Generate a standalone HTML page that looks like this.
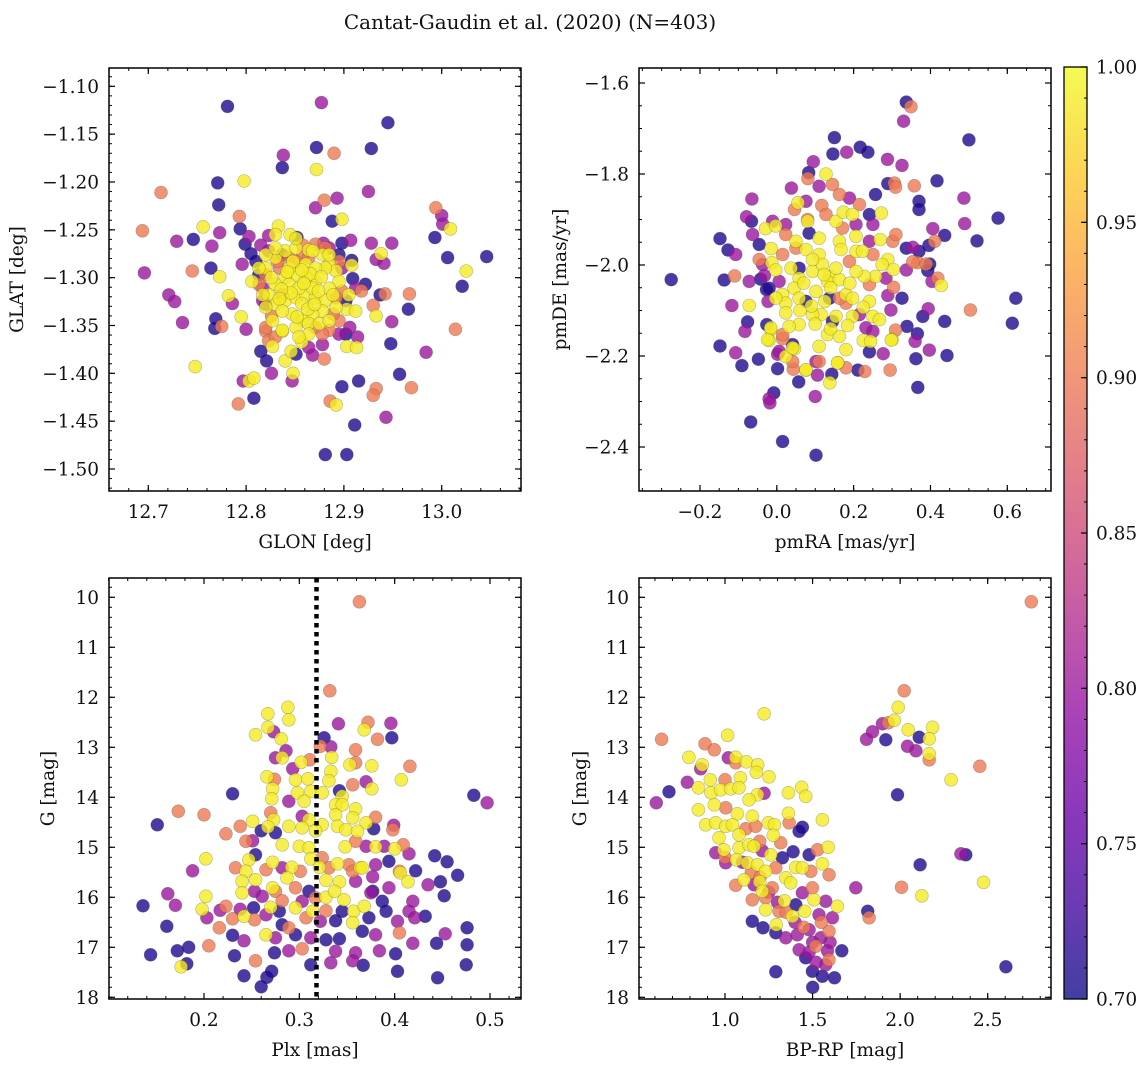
<!DOCTYPE html>
<html><head><meta charset="utf-8">
<style>
html,body{margin:0;padding:0;background:#fff;}
svg{display:block;font-family:"DejaVu Serif","Liberation Serif",serif;}
</style></head>
<body>
<svg id="fig" width="1148" height="1067" viewBox="0 0 1148 1067" xmlns="http://www.w3.org/2000/svg">
<rect x="0" y="0" width="1148" height="1067" fill="#fff"/>
<text x="530" y="29" font-size="20" text-anchor="middle" fill="#111">Cantat-Gaudin et al. (2020) (N=403)</text>
<defs>
<linearGradient id="cbgrad" x1="0" y1="1" x2="0" y2="0">
<stop offset="0" stop-color="#0d0887"/><stop offset="0.1" stop-color="#41049d"/><stop offset="0.2" stop-color="#6a00a8"/><stop offset="0.3" stop-color="#8f0da4"/><stop offset="0.4" stop-color="#b12a90"/><stop offset="0.5" stop-color="#cc4778"/><stop offset="0.6" stop-color="#e16462"/><stop offset="0.7" stop-color="#f2844b"/><stop offset="0.8" stop-color="#fca636"/><stop offset="0.9" stop-color="#fcce25"/><stop offset="1" stop-color="#f0f921"/>
</linearGradient>
</defs>
</svg>
<script>
// ---------- data (value, value, membership probability) ----------
const B=0.71,M=0.80,S=0.90,Y=0.99;
const posData=[
[12.781,-1.121,B],[12.877,-1.117,M],[12.945,-1.138,B],[12.872,-1.164,B],[12.928,-1.165,B],[12.890,-1.170,S],[12.838,-1.172,M],[12.837,-1.185,B],[12.872,-1.187,Y],[12.771,-1.201,B],[12.798,-1.199,Y],[12.713,-1.211,S],[12.772,-1.224,B],[12.925,-1.210,M],[12.880,-1.219,S],[12.893,-1.217,M],[12.871,-1.227,M],[12.793,-1.236,S],[12.994,-1.227,S],[13.000,-1.235,M],[13.001,-1.244,M],[13.009,-1.249,Y],[12.888,-1.241,B],[12.898,-1.239,Y],[12.694,-1.251,S],[12.756,-1.247,Y],[12.773,-1.253,M],[12.794,-1.249,B],[12.729,-1.262,M],[12.746,-1.260,B],[12.765,-1.267,M],[12.696,-1.295,M],[12.745,-1.293,S],[12.764,-1.290,B],[12.773,-1.299,Y],[12.993,-1.258,B],[13.006,-1.279,B],[13.046,-1.278,B],[13.025,-1.293,Y],[13.021,-1.309,B],[12.928,-1.264,M],[12.949,-1.264,M],[12.938,-1.275,Y],[12.933,-1.281,M],[12.941,-1.285,M],[12.967,-1.317,S],[12.966,-1.333,B],[12.942,-1.317,S],[12.937,-1.318,B],[12.930,-1.329,S],[12.933,-1.340,Y],[12.949,-1.346,M],[12.948,-1.369,B],[13.014,-1.354,S],[12.984,-1.378,M],[12.721,-1.318,M],[12.727,-1.325,M],[12.735,-1.347,M],[12.782,-1.319,Y],[12.786,-1.327,M],[12.795,-1.341,Y],[12.769,-1.343,B],[12.768,-1.353,B],[12.775,-1.351,S],[12.800,-1.354,M],[12.748,-1.393,Y],[12.815,-1.377,B],[12.821,-1.387,B],[12.826,-1.400,M],[12.797,-1.408,M],[12.803,-1.408,Y],[12.808,-1.405,Y],[12.792,-1.432,S],[12.808,-1.426,B],[12.847,-1.408,M],[12.848,-1.400,Y],[12.840,-1.387,Y],[12.898,-1.414,B],[12.915,-1.408,B],[12.957,-1.401,B],[12.969,-1.415,S],[12.933,-1.416,S],[12.930,-1.423,S],[12.886,-1.429,S],[12.892,-1.433,Y],[12.911,-1.454,B],[12.943,-1.446,M],[12.881,-1.485,B],[12.903,-1.485,B],[12.903,-1.372,Y],[12.913,-1.373,Y],[12.902,-1.359,B],[12.914,-1.362,M],[12.906,-1.352,M],[12.878,-1.370,M],[12.868,-1.381,M],[12.880,-1.385,S],[12.827,-1.372,Y],[12.820,-1.356,S],[12.823,-1.366,S],[12.837,-1.356,Y],[12.846,-1.377,Y],[12.857,-1.367,Y],[12.898,-1.264,B],[12.907,-1.261,M],[12.908,-1.282,B],[12.908,-1.287,Y],[12.909,-1.301,B],[12.922,-1.307,B],[12.918,-1.314,S],[12.903,-1.333,Y],[12.912,-1.335,Y],[12.803,-1.257,M],[12.799,-1.265,B],[12.805,-1.275,B],[12.796,-1.286,M],[12.815,-1.266,M],[12.823,-1.256,M],[12.833,-1.246,Y],[12.830,-1.255,Y],[12.845,-1.255,Y],[12.852,-1.258,B],[12.879,-1.264,M],
[12.806,-1.304,Y],[12.820,-1.290,Y],[12.830,-1.279,Y],[12.840,-1.272,Y],[12.851,-1.269,Y],[12.864,-1.271,Y],[12.878,-1.276,Y],[12.885,-1.286,Y],[12.892,-1.293,Y],[12.895,-1.304,Y],[12.885,-1.311,Y],[12.871,-1.304,Y],[12.861,-1.300,Y],[12.851,-1.297,Y],[12.840,-1.300,Y],[12.830,-1.307,Y],[12.823,-1.318,Y],[12.830,-1.328,Y],[12.840,-1.324,Y],[12.851,-1.321,Y],[12.861,-1.318,Y],[12.871,-1.321,Y],[12.881,-1.324,Y],[12.892,-1.331,Y],[12.878,-1.335,Y],[12.868,-1.338,Y],[12.858,-1.345,Y],[12.847,-1.338,Y],[12.837,-1.335,Y],[12.827,-1.345,Y],[12.837,-1.355,Y],[12.851,-1.352,Y],[12.864,-1.348,Y],[12.875,-1.348,Y],[12.885,-1.345,Y],[12.864,-1.359,Y],[12.854,-1.362,Y],[12.844,-1.307,Y],[12.868,-1.311,Y],[12.854,-1.311,Y],[12.813,-1.290,Y],[12.820,-1.276,Y],[12.830,-1.269,Y],[12.851,-1.259,Y],[12.868,-1.272,Y],[12.905,-1.318,Y],[12.881,-1.290,Y],[12.820,-1.331,Y],[12.844,-1.290,Y],[12.861,-1.286,Y],[12.871,-1.290,Y],[12.885,-1.276,Y],[12.817,-1.318,Y],
[12.846,-1.316,Y],[12.857,-1.327,Y],[12.866,-1.296,Y],[12.848,-1.283,Y],[12.836,-1.312,Y],[12.874,-1.314,Y],[12.859,-1.306,Y],[12.863,-1.333,Y],[12.852,-1.341,Y],[12.842,-1.294,Y],[12.877,-1.299,Y],[12.870,-1.328,Y],[12.834,-1.322,Y],[12.857,-1.292,Y],[12.889,-1.318,Y],[12.826,-1.300,Y],
[12.820,-1.297,S],[12.834,-1.290,S],[12.844,-1.279,S],[12.858,-1.276,S],[12.871,-1.265,S],[12.881,-1.269,S],[12.895,-1.283,S],[12.898,-1.314,S],[12.892,-1.321,S],[12.895,-1.345,S],[12.885,-1.355,S],[12.871,-1.352,S],[12.820,-1.352,S],[12.813,-1.307,S],[12.837,-1.318,S],[12.851,-1.283,S],[12.864,-1.279,S],[12.878,-1.359,S],[12.830,-1.362,S],[12.826,-1.340,S],[12.889,-1.338,S],[12.858,-1.266,S],[12.832,-1.283,S],
[12.817,-1.311,M],[12.813,-1.297,B],[12.823,-1.272,M],[12.837,-1.276,B],[12.895,-1.276,B],[12.898,-1.290,M],[12.912,-1.311,M],[12.902,-1.324,B],[12.817,-1.324,M],[12.820,-1.328,B],[12.895,-1.359,M],[12.851,-1.380,B],[12.864,-1.373,M],[12.885,-1.269,M],[12.810,-1.283,B]
];
const pmData=[
[-0.275,-2.032,B],[-0.148,-1.942,B],[-0.127,-1.967,B],[-0.107,-1.977,M],[-0.137,-2.033,B],[-0.110,-2.024,S],[-0.072,-2.036,M],[-0.117,-2.089,M],[-0.072,-2.089,Y],[-0.076,-2.125,B],[-0.083,-2.146,M],[-0.148,-2.178,B],[-0.107,-2.193,M],[-0.091,-2.221,B],[-0.048,-2.207,B],[0.002,-2.228,B],[0.057,-2.257,B],[-0.008,-2.281,B],[-0.020,-2.294,M],[-0.018,-2.303,M],[-0.068,-2.345,B],[0.015,-2.388,B],[0.102,-2.418,B],[0.100,-2.289,M],[0.138,-2.259,Y],[0.143,-2.240,B],[0.106,-2.242,M],[-0.065,-1.855,M],[-0.079,-1.894,M],[-0.066,-1.904,B],[0.038,-1.831,M],[0.083,-1.797,B],[0.081,-1.810,S],[0.095,-1.773,M],[0.150,-1.720,B],[0.146,-1.756,B],[0.182,-1.752,M],[0.217,-1.741,B],[0.237,-1.752,B],[0.288,-1.768,M],[0.326,-1.781,M],[0.337,-1.642,B],[0.349,-1.652,S],[0.330,-1.684,M],[0.500,-1.725,B],[0.417,-1.815,B],[0.358,-1.826,S],[0.306,-1.820,S],[0.309,-1.829,S],[0.289,-1.821,B],[0.257,-1.845,B],[0.370,-1.860,B],[0.370,-1.878,B],[0.487,-1.853,M],[0.489,-1.909,M],[0.576,-1.897,B],[0.521,-1.947,B],[0.437,-1.935,B],[0.406,-1.920,M],[0.411,-1.948,S],[0.396,-1.957,B],[0.370,-1.970,B],[0.337,-1.963,B],[0.354,-1.961,M],[0.367,-1.995,S],[0.389,-1.998,S],[0.398,-1.998,B],[0.393,-2.012,B],[0.419,-2.029,S],[0.428,-2.045,Y],[0.404,-2.036,M],[0.622,-2.073,B],[0.504,-2.099,S],[0.613,-2.128,B],[0.437,-2.124,B],[0.380,-2.113,B],[0.394,-2.096,M],[0.326,-2.073,B],[0.337,-2.011,M],[0.304,-2.049,S],[0.289,-2.067,M],[0.297,-2.099,M],[0.339,-2.135,B],[0.366,-2.151,B],[0.360,-2.168,M],[0.397,-2.187,M],[0.443,-2.199,B],[0.362,-2.206,B],[0.367,-2.269,B],[0.295,-2.231,S],[0.309,-2.143,S],[0.300,-2.164,Y],[0.277,-2.195,M],[0.241,-2.191,B],[0.229,-2.234,S],[0.211,-2.231,B],[0.180,-2.226,S],[0.159,-2.215,Y],[0.110,-2.212,S],[0.076,-2.231,Y],[0.043,-2.229,S],[0.002,-2.196,M],[0.023,-2.201,Y],[0.046,-2.184,Y],[-0.026,-2.131,B],[-0.016,-2.142,Y],[-0.020,-2.166,Y],[0.015,-2.162,S],[-0.027,-2.054,B],[-0.023,-2.080,M],[-0.042,-2.031,B],[-0.032,-2.023,M],
[0.117,-1.869,S],[0.046,-1.878,S],[0.080,-1.900,S],[0.023,-1.933,S],[0.050,-1.963,S],[0.015,-1.977,S],[-0.046,-1.988,S],[0.171,-1.919,S],[0.128,-1.889,S],[0.163,-1.845,S],[0.215,-1.867,S],[0.145,-1.823,S],[0.189,-1.992,S],[0.250,-1.977,S],[0.302,-1.948,S],[0.310,-1.933,S],[0.354,-1.993,S],[0.180,-2.084,S],[0.163,-2.073,S],[0.241,-2.043,S],[0.015,-2.153,S],[0.041,-2.212,S],[0.023,-1.911,M],[-0.011,-1.904,M],[-0.063,-1.933,M],[-0.037,-1.999,M],[0.006,-2.036,M],[-0.046,-1.955,B],[0.084,-1.930,B],[0.241,-1.889,B],[0.250,-1.911,M],[0.206,-1.911,M],[0.189,-1.853,M],[0.110,-1.827,M],[0.076,-1.860,M],[0.232,-2.138,M],[0.250,-2.146,M],[0.215,-2.109,M],[0.145,-2.124,B],[0.137,-2.073,B],[0.076,-2.080,B],[-0.020,-2.051,B],[0.006,-2.190,M],[0.041,-2.175,B],[0.241,-1.948,M],[0.284,-2.029,M],[0.058,-2.007,B],[0.102,-2.212,M],
[-0.029,-1.920,Y],[-0.003,-1.914,Y],[-0.015,-1.964,Y],[-0.013,-1.995,Y],[-0.003,-2.011,Y],[0.055,-1.863,Y],[0.080,-1.904,Y],[0.128,-1.800,Y],[0.154,-1.904,Y],[0.173,-1.884,Y],[0.197,-1.889,Y],[0.272,-1.886,Y],[0.050,-1.948,Y],[0.076,-1.966,Y],[0.110,-1.941,Y],[0.110,-1.977,Y],[0.163,-1.948,Y],[0.167,-1.966,Y],[0.206,-1.937,Y],[0.206,-1.970,Y],[0.223,-1.970,Y],[0.269,-1.944,Y],[0.289,-1.988,Y],[0.303,-2.010,Y],[0.274,-1.999,Y],[0.257,-2.025,Y],[0.228,-2.025,Y],[0.206,-2.014,Y],[0.137,-2.025,Y],[0.132,-2.036,Y],[0.093,-2.014,Y],[0.058,-2.029,Y],[0.045,-2.051,Y],[0.015,-2.065,Y],[0.023,-2.084,Y],[0.058,-2.073,Y],[0.102,-2.058,Y],[0.163,-2.032,Y],[0.180,-2.065,Y],[0.197,-2.073,Y],[0.241,-2.080,Y],[0.225,-2.093,Y],[0.250,-2.113,Y],[0.267,-2.120,Y],[0.197,-2.113,Y],[0.184,-2.133,Y],[0.154,-2.113,Y],[0.115,-2.109,Y],[0.093,-2.109,Y],[0.058,-2.131,Y],[0.032,-2.135,Y],[0.023,-2.105,Y],[-0.016,-2.138,Y],[-0.024,-2.164,Y],[0.041,-2.182,Y],[0.110,-2.179,Y],[0.132,-2.153,Y],[0.163,-2.157,Y],[0.180,-2.186,Y],[0.158,-2.215,Y],[0.076,-2.230,Y],[0.225,-2.166,Y],[0.244,-2.168,Y],[0.298,-2.165,Y],[0.119,-1.999,Y],[0.093,-1.988,Y],[0.154,-2.007,Y],[0.123,-2.021,Y],[0.037,-2.007,Y],[-0.003,-2.073,Y],
[0.070,-2.040,Y],[0.140,-2.050,Y],[0.090,-2.090,Y],[0.125,-2.080,Y],[0.190,-2.040,Y],[0.060,-2.100,Y],[0.100,-2.130,Y],[0.140,-2.140,Y]
];
const plxData=[
[.363,10.09,S],[.332,11.87,S],[.288,12.20,Y],[.267,12.33,Y],[.289,12.45,Y],[.267,12.60,Y],[.254,12.75,Y],[.273,12.69,M],[.281,12.83,Y],[.341,12.53,M],[.372,12.50,S],[.368,12.65,Y],[.396,12.52,M],[.397,12.81,B],[.382,12.84,S],[.326,12.81,B],[.322,12.98,S],[.333,12.99,M],[.359,13.05,S],[.286,13.07,M],[.275,13.21,M],[.282,13.21,Y],[.302,13.30,Y],[.311,13.25,S],[.334,13.20,Y],[.353,13.35,Y],[.359,13.31,S],[.376,13.37,Y],[.416,13.38,S],[.407,13.65,Y],[.293,13.43,M],[.266,13.59,Y],[.274,13.64,S],[.296,13.65,Y],[.309,13.63,Y],[.333,13.48,Y],[.331,13.67,Y],[.356,13.75,S],[.370,13.69,M],[.376,13.83,Y],[.272,13.83,Y],[.271,14.03,Y],[.298,13.91,Y],[.312,13.88,Y],[.324,13.91,Y],[.342,13.87,B],[.345,13.98,Y],[.230,13.93,B],[.483,13.96,B],[.497,14.11,M],[.289,14.08,M],[.305,14.08,Y],[.338,14.15,Y],[.359,14.23,Y],[.345,14.15,Y],[.173,14.28,S],[.200,14.35,S],[.151,14.55,B],[.251,14.48,Y],[.270,14.31,S],[.273,14.45,Y],[.303,14.38,M],[.310,14.45,Y],[.324,14.55,Y],[.338,14.35,Y],[.356,14.41,Y],[.370,14.51,Y],[.380,14.40,S],[.399,14.56,M],[.398,14.65,S],[.378,14.63,B],[.238,14.58,S],[.223,14.73,S],[.260,14.67,B],[.267,14.59,Y],[.275,14.71,B],[.289,14.58,Y],[.303,14.61,Y],[.317,14.67,Y],[.340,14.58,Y],[.349,14.65,Y],[.361,14.68,Y],[.244,14.88,S],[.251,14.87,M],[.282,14.95,Y],[.300,14.98,Y],[.310,15.01,Y],[.348,14.99,Y],[.359,14.88,S],[.370,14.98,M],[.380,14.99,Y],[.389,14.98,M],[.400,15.03,Y],[.409,14.95,S],[.202,15.23,Y],[.247,15.25,Y],[.254,15.15,B],[.272,15.30,Y],[.292,15.40,Y],[.312,15.23,Y],[.324,15.21,S],[.340,15.33,Y],[.352,15.35,S],[.364,15.41,Y],[.380,15.35,M],[.394,15.28,B],[.405,15.48,S],[.415,15.13,M],[.442,15.17,B],[.455,15.29,B],[.188,15.47,M],[.233,15.41,S],[.244,15.48,Y],[.265,15.45,S],[.282,15.41,M],[.301,15.48,S],[.321,15.40,Y],[.331,15.41,S],[.356,15.48,S],[.366,15.41,Y],[.377,15.59,M],[.406,15.51,Y],[.422,15.47,B],[.466,15.56,B],[.240,15.68,Y],[.254,15.65,Y],[.272,15.81,Y],[.287,15.61,Y],[.296,15.81,S],[.310,15.88,B],[.328,15.66,Y],[.342,15.69,Y],[.359,15.68,M],[.377,15.88,B],[.394,15.81,M],[.414,15.69,Y],[.435,15.75,M],[.448,15.69,B],[.452,15.97,B],[.240,15.91,Y],[.253,15.88,M],[.261,15.98,M],[.275,15.88,S],[.282,16.07,S],[.303,16.08,M],[.317,16.01,S],[.328,16.00,Y],[.337,15.88,Y],[.347,16.05,Y],[.375,15.91,M],[.419,16.08,M],[.162,15.93,M],[.202,15.98,Y],[.136,16.17,B],[.170,16.16,M],[.198,16.24,Y],[.217,16.26,M],[.223,16.18,S],[.238,16.24,M],[.252,16.21,B],[.270,16.20,Y],[.279,16.28,B],[.296,16.21,Y],[.314,16.28,Y],[.328,16.27,S],[.345,16.28,B],[.357,16.28,Y],[.368,16.18,Y],[.387,16.08,B],[.391,16.28,B],[.415,16.28,M],[.203,16.41,M],[.230,16.43,S],[.242,16.38,Y],[.253,16.45,S],[.265,16.35,M],[.282,16.55,B],[.289,16.61,S],[.307,16.41,S],[.322,16.48,M],[.338,16.47,B],[.356,16.51,Y],[.373,16.41,B],[.403,16.48,M],[.421,16.41,M],[.432,16.38,B],[.161,16.58,B],[.216,16.61,S],[.230,16.76,B],[.242,16.87,M],[.265,16.75,Y],[.275,16.81,M],[.296,16.75,B],[.312,16.81,M],[.328,16.85,B],[.342,16.83,B],[.366,16.68,B],[.380,16.75,M],[.405,16.71,S],[.453,16.73,M],[.476,16.61,B],[.144,17.15,B],[.172,17.07,B],[.184,17.00,B],[.205,16.97,S],[.232,17.17,B],[.254,17.27,S],[.274,17.11,B],[.289,17.07,M],[.303,17.03,S],[.338,17.08,M],[.359,17.11,M],[.384,17.07,M],[.401,17.13,B],[.419,16.92,M],[.444,16.92,B],[.476,16.95,B],[.176,17.39,Y],[.182,17.33,B],[.242,17.57,B],[.266,17.60,B],[.271,17.48,B],[.260,17.79,B],[.312,17.35,B],[.333,17.31,M],[.356,17.27,M],[.367,17.36,B],[.403,17.48,B],[.445,17.61,B],[.475,17.35,B]
];
const cmdData=[
[2.749,10.09,S],[2.023,11.87,S],[1.989,12.20,Y],[1.223,12.33,Y],[1.966,12.46,Y],[1.899,12.53,M],[1.933,12.51,S],[2.185,12.60,Y],[2.046,12.65,Y],[1.842,12.69,M],[1.808,12.84,M],[1.918,12.85,B],[2.109,12.80,B],[2.166,12.83,Y],[2.042,12.98,M],[2.090,13.07,M],[2.166,13.13,Y],[2.166,13.25,S],[2.455,13.38,S],[2.291,13.65,Y],[1.985,13.95,B],[0.638,12.84,S],[1.015,12.76,Y],[0.886,12.93,S],[0.939,13.05,S],[0.794,13.20,Y],[0.870,13.35,Y],[0.861,13.43,M],[1.019,13.21,M],[1.061,13.20,Y],[1.061,13.31,S],[1.122,13.29,Y],[1.187,13.35,Y],[1.179,13.50,Y],[1.251,13.59,Y],[1.088,13.61,Y],[1.000,13.65,S],[0.916,13.65,Y],[0.785,13.70,M],[0.680,13.89,B],[0.848,13.81,Y],[0.920,13.91,Y],[0.975,13.85,Y],[1.032,13.83,Y],[1.080,13.81,Y],[1.185,13.95,Y],[1.223,13.92,M],[1.362,13.91,Y],[1.438,13.80,Y],[1.461,13.98,Y],[0.608,14.11,M],[0.848,14.25,Y],[0.939,14.15,Y],[1.004,14.21,S],[1.070,14.33,Y],[1.137,14.05,Y],[1.156,14.38,Y],[1.362,14.32,Y],[1.556,14.45,Y],[0.890,14.55,Y],[0.947,14.51,Y],[1.004,14.58,Y],[1.042,14.55,Y],[1.118,14.63,S],[1.175,14.58,S],[1.248,14.51,Y],[1.282,14.55,Y],[1.366,14.51,S],[1.442,14.60,B],[1.423,14.68,B],[0.966,14.81,Y],[1.080,14.75,Y],[1.276,14.76,Y],[1.318,14.91,S],[1.198,14.88,S],[0.947,15.11,M],[0.994,15.05,Y],[1.080,15.01,Y],[1.137,14.95,Y],[1.166,14.98,Y],[1.213,15.07,M],[1.261,15.15,Y],[1.328,15.21,B],[1.389,15.09,B],[1.480,15.15,B],[1.528,15.05,S],[1.589,15.00,Y],[1.004,15.31,M],[1.065,15.25,Y],[1.128,15.31,Y],[1.185,15.35,Y],[1.232,15.48,Y],[1.290,15.41,S],[1.404,15.40,Y],[1.442,15.41,Y],[1.490,15.48,S],[1.556,15.33,Y],[1.594,15.55,S],[1.061,15.76,S],[1.109,15.65,Y],[1.166,15.75,M],[1.198,15.69,Y],[1.213,15.88,Y],[1.270,15.81,S],[1.347,15.61,Y],[1.375,15.71,Y],[1.442,15.91,M],[1.499,15.81,S],[1.747,15.81,M],[1.156,16.05,S],[1.232,16.01,S],[1.339,16.07,Y],[1.404,16.15,B],[1.509,16.05,Y],[1.575,16.08,M],[1.642,16.18,Y],[1.232,16.25,Y],[1.309,16.28,S],[1.385,16.38,Y],[1.455,16.28,Y],[1.537,16.35,M],[1.613,16.41,M],[1.815,16.28,B],[1.823,16.41,S],[1.156,16.48,B],[1.217,16.61,B],[1.293,16.55,Y],[1.290,16.71,B],[1.347,16.81,M],[1.413,16.75,M],[1.480,16.65,M],[1.547,16.81,M],[1.594,16.68,S],[1.423,17.05,M],[1.461,17.21,B],[1.518,16.98,S],[1.585,17.07,M],[1.594,17.25,S],[1.667,17.07,B],[1.290,17.49,B],[1.499,17.48,B],[1.556,17.58,B],[1.625,17.61,B],[1.501,17.80,B],[1.575,17.35,M],[2.114,15.35,B],[2.347,15.13,M],[2.375,15.15,B],[2.008,15.80,S],[2.124,15.97,Y],[2.476,15.70,Y],[2.604,17.39,B],
[1.40,16.50,M],[1.45,16.60,S],[1.50,16.90,M],[1.55,16.50,S],[1.35,16.30,S],[1.30,16.10,M],[1.25,15.90,M],[1.10,15.30,M],[1.15,15.50,S],[1.20,15.60,S],[1.60,16.90,M],[1.48,17.10,M],[1.52,17.30,M],[1.00,15.20,S]
];
const glonTicks=[12.7,12.8,12.9,13.0];
const glonTickLabels=["12.7","12.8","12.9","13.0"];
const glatTicks=[-1.10,-1.15,-1.20,-1.25,-1.30,-1.35,-1.40,-1.45,-1.50];
const glatTickLabels=["−1.10","−1.15","−1.20","−1.25","−1.30","−1.35","−1.40","−1.45","−1.50"];
const pmraTicks=[-0.2,0.0,0.2,0.4,0.6];
const pmraTickLabels=["−0.2","0.0","0.2","0.4","0.6"];
const pmdeTicks=[-1.6,-1.8,-2.0,-2.2,-2.4];
const pmdeTickLabels=["−1.6","−1.8","−2.0","−2.2","−2.4"];
const plxTicks=[0.2,0.3,0.4,0.5];
const plxTickLabels=["0.2","0.3","0.4","0.5"];
const gTicks=[10,11,12,13,14,15,16,17,18];
const gTickLabels=["10","11","12","13","14","15","16","17","18"];
const bprpTicks=[1.0,1.5,2.0,2.5];
const bprpTickLabels=["1.0","1.5","2.0","2.5"];
const cbTicks=[0.70,0.75,0.80,0.85,0.90,0.95,1.00];
const cbTickLabels=["0.70","0.75","0.80","0.85","0.90","0.95","1.00"];
const plxCut=[0.318];

// ---------- rendering ----------
const NS="http://www.w3.org/2000/svg";
const svg=document.getElementById('fig');
const FS=18.5;
function mk(tag,attrs,parent){const e=document.createElementNS(NS,tag);for(const k in attrs)e.setAttribute(k,attrs[k]);(parent||svg).appendChild(e);return e;}
const stops=[[13,8,135],[65,4,157],[106,0,168],[143,13,164],[177,42,144],[204,71,120],[225,100,98],[242,132,75],[252,166,54],[252,206,37],[240,249,33]];
function plasma(t){t=Math.max(0,Math.min(1,t))*10;const i=Math.min(9,Math.floor(t)),f=t-i;const a=stops[i],b=stops[i+1];return `rgb(${Math.round(a[0]+(b[0]-a[0])*f)},${Math.round(a[1]+(b[1]-a[1])*f)},${Math.round(a[2]+(b[2]-a[2])*f)})`;}
function lin(d0,d1,p0,p1){return v=>p0+(v-d0)*(p1-p0)/(d1-d0);}

function panel(cfg){
  const g=mk('g',{});
  
  
  const {L,R,T,Bt,xs,ys}=cfg;
  const clipId=cfg.name+'-clip';
  const cp=mk('clipPath',{id:clipId},g);mk('rect',{x:L,y:T,width:R-L,height:Bt-T},cp);
  const pts=mk('g',{'clip-path':`url(#${clipId})`},g);
  
  
  const sorted=cfg.data.slice().sort((a,b)=>a[2]-b[2]);
  sorted.forEach(d=>{
    const c=mk('circle',{cx:xs(d[0]).toFixed(1),cy:ys(d[1]).toFixed(1),r:6.5,fill:plasma((d[2]-0.7)/0.3),'fill-opacity':0.8,stroke:'rgba(60,60,60,0.35)','stroke-width':0.6},pts);
    
    
  });
  if(cfg.extra)cfg.extra(g);
  for(let v=cfg.xmin;v<=cfg.xmax+1e-9;v+=cfg.xminor){const x=xs(v);if(x<L-0.5||x>R+0.5)continue;mk('line',{x1:x,x2:x,y1:Bt,y2:Bt-3,stroke:'#000','stroke-width':1},g);mk('line',{x1:x,x2:x,y1:T,y2:T+3,stroke:'#000','stroke-width':1},g);}
  for(let v=cfg.ymin;v<=cfg.ymax+1e-9;v+=cfg.yminor){const y=ys(v);if(y<T-0.5||y>Bt+0.5)continue;mk('line',{x1:L,x2:L+3,y1:y,y2:y,stroke:'#000','stroke-width':1},g);mk('line',{x1:R,x2:R-3,y1:y,y2:y,stroke:'#000','stroke-width':1},g);}
  cfg.xt.forEach((v,i)=>{const x=xs(v);mk('line',{x1:x,x2:x,y1:Bt,y2:Bt-6,stroke:'#000','stroke-width':1.2},g);mk('line',{x1:x,x2:x,y1:T,y2:T+6,stroke:'#000','stroke-width':1.2},g);
    const t=mk('text',{x:x,y:Bt+27,'font-size':FS,'text-anchor':'middle',fill:'#111'},g);t.textContent=cfg.xl[i];
    
    });
  cfg.yt.forEach((v,i)=>{const y=ys(v);mk('line',{x1:L,x2:L+6,y1:y,y2:y,stroke:'#000','stroke-width':1.2},g);mk('line',{x1:R,x2:R-6,y1:y,y2:y,stroke:'#000','stroke-width':1.2},g);
    const t=mk('text',{x:L-10,y:y+6.5,'font-size':FS,'text-anchor':'end',fill:'#111'},g);t.textContent=cfg.yl[i];
    
    });
  const fr=mk('rect',{x:L,y:T,width:R-L,height:Bt-T,fill:'none',stroke:'#000','stroke-width':1.5},g);
  
  
  const xt=mk('text',{x:(L+R)/2,y:Bt+57,'font-size':FS,'text-anchor':'middle',fill:'#111'},g);xt.textContent=cfg.xlabel;
  
  
  const yt=mk('text',{x:cfg.ylx,y:(T+Bt)/2,'font-size':FS,'text-anchor':'middle',fill:'#111',transform:`rotate(-90 ${cfg.ylx} ${(T+Bt)/2})`},g);yt.textContent=cfg.ylabel;
  
  
}

const xs1=lin(12.7,13.0,148.3,441.7), ys1=lin(-1.10,-1.50,86.3,469.0);
panel({name:'position-panel',L:109,R:521,T:68,Bt:491,xs:xs1,ys:ys1,data:posData,xt:glonTicks,xl:glonTickLabels,yt:glatTicks,yl:glatTickLabels,xmin:12.64,xmax:13.16,xminor:0.02,ymin:-1.53,ymax:-1.07,yminor:0.01,xlabel:'GLON [deg]',ylabel:'GLAT [deg]',ylx:23});
const xs2=lin(-0.2,0.6,700.0,1007.3), ys2=lin(-1.6,-2.4,83.0,447.0);
panel({name:'proper-motion-panel',L:639,R:1051,T:68,Bt:491,xs:xs2,ys:ys2,data:pmData,xt:pmraTicks,xl:pmraTickLabels,yt:pmdeTicks,yl:pmdeTickLabels,xmin:-0.4,xmax:0.75,xminor:0.05,ymin:-2.5,ymax:-1.55,yminor:0.05,xlabel:'pmRA [mas/yr]',ylabel:'pmDE [mas/yr]',ylx:566});
const xs3=lin(0.2,0.5,204.0,490.0), ys3=lin(10,18,597.3,997.3);
panel({name:'parallax-panel',L:109,R:521,T:578,Bt:999,xs:xs3,ys:ys3,data:plxData,xt:plxTicks,xl:plxTickLabels,yt:gTicks,yl:gTickLabels,xmin:0.1,xmax:0.54,xminor:0.02,ymin:9.6,ymax:18.2,yminor:0.2,xlabel:'Plx [mas]',ylabel:'G [mag]',ylx:54,
  extra:g=>{plxCut.forEach(v=>{const l=mk('line',{x1:xs3(v),x2:xs3(v),y1:578,y2:999,stroke:'#000','stroke-width':4.5,'stroke-dasharray':'4.5 4.5'},g);});}});
const xs4=lin(1.0,2.5,725.0,987.7), ys4=ys3;
panel({name:'cmd-panel',L:639,R:1051,T:578,Bt:999,xs:xs4,ys:ys4,data:cmdData,xt:bprpTicks,xl:bprpTickLabels,yt:gTicks,yl:gTickLabels,xmin:0.5,xmax:2.9,xminor:0.1,ymin:9.6,ymax:18.2,yminor:0.2,xlabel:'BP-RP [mag]',ylabel:'G [mag]',ylx:586});

// colorbar
const cb=mk('g',{});


const cbY=lin(0.70,1.00,999,67);
mk('rect',{x:1064,y:67,width:23,height:932,fill:'url(#cbgrad)','fill-opacity':0.78},cb);
mk('rect',{x:1064,y:67,width:23,height:932,fill:'none',stroke:'#000','stroke-width':1.3},cb);
for(let k=71;k<100;k++){const y=cbY(k/100);mk('line',{x1:1087,x2:1084,y1:y,y2:y,stroke:'#000','stroke-width':1},cb);}
cbTicks.forEach((v,i)=>{const y=cbY(v);mk('line',{x1:1087,x2:1081,y1:y,y2:y,stroke:'#000','stroke-width':1.2},cb);
  const t=mk('text',{x:1096,y:y+6.5,'font-size':FS,fill:'#111'},cb);t.textContent=cbTickLabels[i];
  
  });
</script>
</body></html>
